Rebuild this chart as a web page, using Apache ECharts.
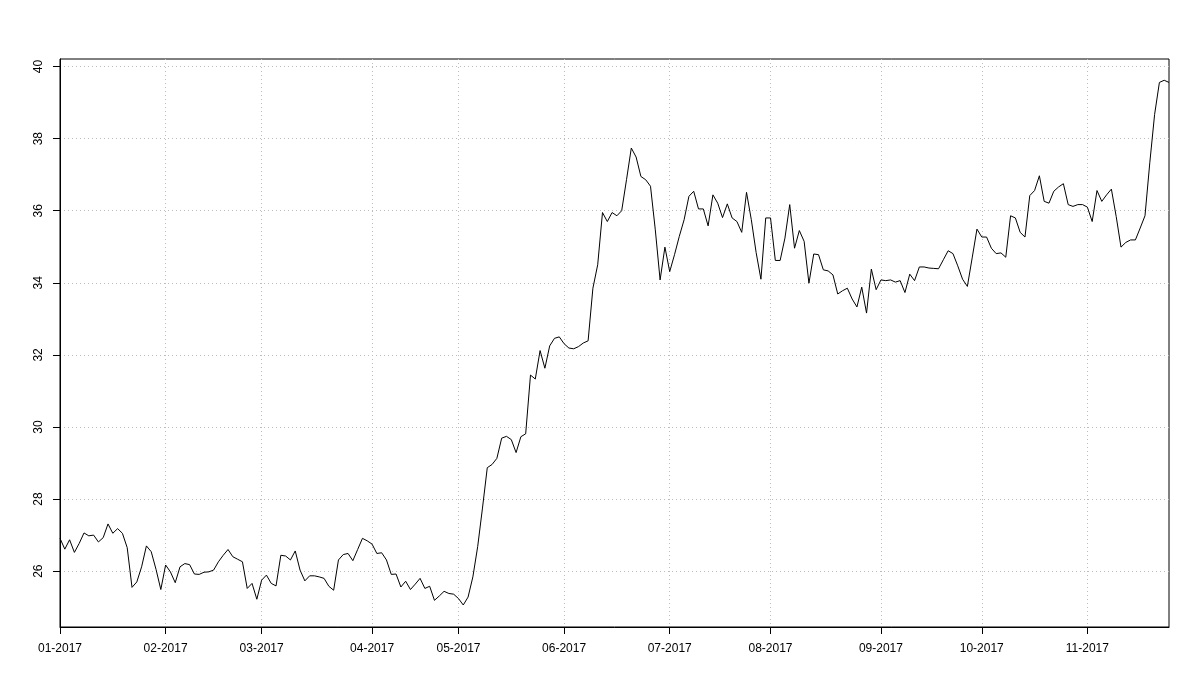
<!DOCTYPE html>
<html><head><meta charset="utf-8">
<script src="https://cdn.jsdelivr.net/npm/echarts@6/dist/echarts.min.js"></script>
<style>html,body{margin:0;padding:0;background:#fff}#c{width:1200px;height:700px}</style>
</head><body><div id="c"></div>
<script>
// Month tick labels and the observations in each month
const monthLabels = ['01-2017','02-2017','03-2017','04-2017','05-2017','06-2017','07-2017','08-2017','09-2017','10-2017','11-2017'];
const jan = [26.91,26.61,26.87,26.52,26.77,27.06,26.98,27.00,26.81,26.93,27.31,27.05,27.18,27.05,26.65,25.55,25.70,26.12,26.70,26.54,26.05,25.49];
const feb = [26.17,25.98,25.68,26.12,26.21,26.18,25.92,25.91,25.97,25.98,26.03,26.26,26.44,26.60,26.40,26.33,26.26,25.52,25.66,25.22];
const mar = [25.75,25.89,25.66,25.59,26.44,26.42,26.31,26.56,26.03,25.73,25.87,25.87,25.84,25.80,25.58,25.47,26.31,26.46,26.49,26.29,26.60,26.91,26.84];
const apr = [26.75,26.49,26.51,26.31,25.91,25.92,25.56,25.72,25.49,25.64,25.80,25.52,25.58,25.19,25.31,25.44,25.38,25.36];
const may = [25.24,25.06,25.28,25.84,26.68,27.75,28.87,28.96,29.13,29.69,29.74,29.65,29.29,29.73,29.81,31.44,31.33,32.12,31.63,32.25,32.46,32.50];
const jun = [32.31,32.19,32.17,32.23,32.33,32.39,33.85,34.50,35.95,35.70,35.95,35.86,36.00,36.86,37.74,37.49,36.95,36.86,36.68,35.47,34.08,34.99];
const jul = [34.31,34.78,35.29,35.75,36.40,36.54,36.05,36.05,35.58,36.44,36.21,35.81,36.19,35.80,35.70,35.40,36.51,35.75,34.84,34.10,35.80];
const aug = [35.80,34.62,34.62,35.24,36.17,34.96,35.45,35.15,33.99,34.80,34.78,34.36,34.33,34.22,33.69,33.78,33.85,33.55,33.33,33.88,33.16,34.38,33.81];
const sep = [34.08,34.06,34.08,34.02,34.06,33.73,34.24,34.06,34.44,34.44,34.41,34.40,34.39,34.64,34.89,34.81,34.47,34.10,33.90,34.69,35.49];
const oct = [35.27,35.27,34.96,34.81,34.83,34.71,35.86,35.80,35.40,35.27,36.42,36.56,36.97,36.26,36.21,36.54,36.66,36.75,36.17,36.12,36.17,36.17];
const nov = [36.10,35.70,36.56,36.26,36.44,36.60,35.84,34.99,35.12,35.19,35.19,35.52,35.86,37.33,38.67,39.56,39.62,39.56];
const yTicks = [26,28,30,32,34,36,38,40];
const yMin = 24.45, yMax = 40.21;

const months = [jan,feb,mar,apr,may,jun,jul,aug,sep,oct,nov];
const categories = [];
const values = [];
months.forEach((arr, m) => {
  arr.forEach((v, k) => { categories.push(monthLabels[m] + '|' + k); values.push(v); });
});
const isMonthStart = (idx, val) => String(val).split('|')[1] === '0';

const FONT = "'Liberation Sans', Arial, sans-serif";
const GRIDCOL = '#bdbdbd';
const chart = echarts.init(document.getElementById('c'), null, {renderer: 'canvas'});
chart.setOption({
  animation: false,
  backgroundColor: '#fff',
  grid: {left: 60, right: 31, top: 59, bottom: 73, show: true, borderColor: '#000', borderWidth: 1, backgroundColor: 'transparent'},
  xAxis: {
    type: 'category',
    data: categories,
    boundaryGap: false,
    axisLine: {show: true, lineStyle: {color: '#000', width: 1}},
    axisTick: {show: true, interval: isMonthStart, length: 7, lineStyle: {color: '#000'}},
    axisLabel: {interval: isMonthStart, formatter: v => v.split('|')[0], color: '#000', fontFamily: FONT, fontSize: 12, margin: 16},
    splitLine: {show: true, interval: isMonthStart, lineStyle: {color: GRIDCOL, type: [1, 3], width: 1}}
  },
  yAxis: {
    type: 'value',
    min: yMin, max: yMax,
    axisLine: {show: true, lineStyle: {color: '#000', width: 1}},
    axisTick: {show: true, length: 7, customValues: yTicks, lineStyle: {color: '#000'}},
    axisLabel: {customValues: yTicks, rotate: 90, color: '#000', fontFamily: FONT, fontSize: 12, margin: 15},
    splitLine: {show: true, lineStyle: {color: GRIDCOL, type: [1, 3], width: 1}}
  },
  series: [{
    type: 'line',
    data: values,
    showSymbol: false,
    symbol: 'none',
    lineStyle: {color: '#000', width: 1},
    z: 5
  }]
});
</script></body></html>
